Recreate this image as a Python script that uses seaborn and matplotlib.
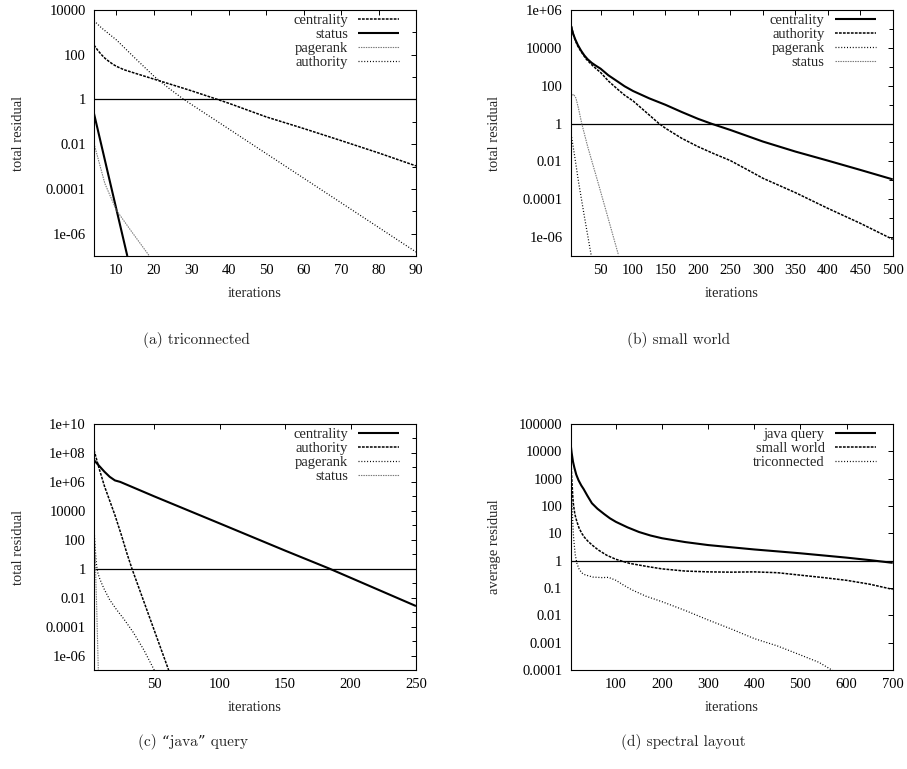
import numpy as np
import pandas as pd
import matplotlib
matplotlib.use("Agg")
import matplotlib.pyplot as plt
import seaborn as sns
from matplotlib.ticker import FixedLocator, FuncFormatter, NullLocator, NullFormatter, LogLocator

# ---------------- data ----------------
# (a) triconnected
a_centrality_x = [4, 5, 6, 7, 8, 9, 10, 12, 15, 20, 25, 30, 37, 40, 50, 60, 70, 80, 90]
a_centrality_y = [269, 158, 100, 67.6, 50.1, 38.0, 30.2, 21.4, 14.8, 8.13, 4.47, 2.45, 1.0,
                  0.676, 0.166, 0.0501, 0.01445, 0.00407, 0.00107]
a_status_x = [4, 8, 12.9]
a_status_y = [0.234, 3.2e-4, 1.0e-7]
a_pagerank_x = [4, 6.9, 10, 14, 18.8]
a_pagerank_y = [0.0107, 1.74e-4, 1.10e-5, 1.26e-6, 1.0e-7]
a_authority_x = [4, 5, 6, 8, 10, 12.5, 15, 17.5, 20, 24, 28, 40, 50, 60, 70, 80, 90]
a_authority_y = [3311, 2291, 1585, 851, 457, 178, 69.2, 27.5, 11.0, 3.16, 1.0, 0.0479, 0.0038,
                 3.02e-4, 2.4e-5, 1.9e-6, 1.51e-7]

# (b) small world
b_centrality_x = [4, 6, 8, 11, 15, 20, 25, 30, 36.6, 43, 50, 62, 75, 87, 100, 125, 150, 175,
                  200, 220, 250, 300, 350, 400, 450, 500]
b_centrality_y = [1.66e5, 8.9e4, 5.25e4, 2.82e4, 1.41e4, 7079, 3981, 2512, 1585, 1122, 794,
                  355, 178, 93.3, 52.5, 21.4, 9.77, 4.07, 1.78, 1.0, 0.457, 0.112, 0.0331,
                  0.011, 0.00355, 0.00112]
b_authority_x = [4, 6, 8, 10, 14, 20, 28, 36.6, 43, 50, 62, 75, 87, 100, 120, 140, 150, 175,
                 200, 225, 250, 275, 300, 350, 400, 450, 500]
b_authority_y = [2.24e5, 1.0e5, 5.25e4, 3.16e4, 1.41e4, 6310, 2512, 1259, 794, 501, 178, 70.8,
                 31.6, 15.8, 3.98, 1.0, 0.562, 0.166, 0.0603, 0.0251, 0.011, 0.0038, 0.00129,
                 2.24e-4, 3.31e-5, 5.37e-6, 7.59e-7]
b_pagerank_x = [4, 10, 16, 25, 35.5]
b_pagerank_y = [0.38, 0.02, 8.5e-4, 1.26e-5, 1.12e-7]
b_status_x = [4, 8.3, 12, 16, 21, 30, 46.8, 60, 77.6]
b_status_y = [25.1, 35.5, 22.4, 6.31, 1.0, 0.0631, 6.3e-4, 1.58e-5, 1.12e-7]

# (c) "java" query
c_centrality_x = [4, 8, 12, 16, 20, 24, 50, 100, 150, 184, 250]
c_centrality_y = [3.16e7, 1.26e7, 5.01e6, 2.24e6, 1.26e6, 1.0e6, 1.0e5, 1349, 17.8, 1.0, 0.00263]
c_authority_x = [4, 8, 12, 16, 20, 25, 29, 33, 47, 61]
c_authority_y = [1.58e8, 7.94e6, 5.01e5, 5.01e4, 5012, 200, 12.6, 1.0, 3.16e-4, 1.0e-7]
c_pagerank_x = [4, 4.5, 5, 5.5, 6, 7, 8, 10, 12, 16, 21, 27, 34, 42, 50]
c_pagerank_y = [794, 100, 20, 5.01, 1.58, 0.5, 0.251, 0.0891, 0.0355, 0.00708, 0.00158,
                3.16e-4, 3.98e-5, 2.5e-6, 1.0e-7]
c_status_x = [4, 5, 6, 7.3]
c_status_y = [1000, 3.16, 0.00316, 1.0e-7]

# (d) spectral layout
d_java_x = [2, 4, 7, 10, 14, 19, 25, 30, 38, 48, 60, 75, 87, 100, 125, 150, 175, 200, 250,
            300, 350, 400, 450, 500, 550, 600, 650, 700]
d_java_y = [17783, 8913, 4169, 2512, 1413, 871, 562, 417, 240, 126, 79.4, 50.1, 35.5, 26.3,
            16.6, 11.2, 8.32, 6.61, 4.79, 3.72, 3.09, 2.57, 2.19, 1.86, 1.55, 1.29, 1.05, 0.832]
d_small_x = [2, 3, 4, 5, 6.5, 8, 11, 15, 20, 26, 32, 40, 50, 62, 80, 100, 130, 170, 200, 250,
             300, 350, 400, 450, 500, 550, 600, 650, 700]
d_small_y = [10000, 3162, 1259, 631, 224, 112, 50.1, 28.2, 15.8, 10, 7.08, 5.01, 3.55, 2.45,
             1.58, 1.12, 0.794, 0.603, 0.501, 0.417, 0.389, 0.380, 0.389, 0.363, 0.295, 0.240,
             0.191, 0.138, 0.0891]
d_tri_x = [2, 3, 4, 5, 6.5, 8, 10, 12, 15.5, 20, 26, 33.5, 50, 70, 84, 100, 117, 135, 165, 200,
           250, 300, 350, 400, 450, 500, 540, 570]
d_tri_y = [6310, 1000, 251, 100, 25.1, 7.94, 3.39, 1.58, 0.794, 0.501, 0.355, 0.302, 0.251,
           0.24, 0.245, 0.191, 0.126, 0.0851, 0.0501, 0.0316, 0.0151, 0.00676, 0.00316,
           0.00141, 7.59e-4, 3.55e-4, 1.91e-4, 9.55e-5]

# axis ticks
a_yticks = [1e4, 1e2, 1, 1e-2, 1e-4, 1e-6]
a_yminor = [1e3, 1e1, 1e-1, 1e-3, 1e-5]
a_xticks = [10, 20, 30, 40, 50, 60, 70, 80, 90]
b_yticks = [1e6, 1e4, 1e2, 1, 1e-2, 1e-4, 1e-6]
b_yminor = [1e5, 1e3, 1e1, 1e-1, 1e-3, 1e-5]
b_xticks = [50, 100, 150, 200, 250, 300, 350, 400, 450, 500]
c_yticks = [1e10, 1e8, 1e6, 1e4, 1e2, 1, 1e-2, 1e-4, 1e-6]
c_yminor = [1e9, 1e7, 1e5, 1e3, 1e1, 1e-1, 1e-3, 1e-5]
c_xticks = [50, 100, 150, 200, 250]
d_yticks = [1e5, 1e4, 1e3, 1e2, 1e1, 1, 1e-1, 1e-2, 1e-3, 1e-4]
d_xticks = [100, 200, 300, 400, 500, 600, 700]

captions = ["(a) triconnected", "(b) small world", "(c) \u201cjava\u201d query", "(d) spectral layout"]

# ---------------- style ----------------
sns.set_style("white")
plt.rcParams['font.family'] = ['Liberation Serif', 'DejaVu Serif']
plt.rcParams['axes.linewidth'] = 0.8
plt.rcParams['axes.edgecolor'] = 'black'

STY = {
    'solid':  dict(color='black', lw=1.5, ls='-'),
    'dashed': dict(color='black', lw=1.1, ls=(0, (1.8, 0.8))),
    'dotted': dict(color='black', lw=0.9, ls=(0, (0.8, 1.5))),
    'gray':   dict(color='#7a7a7a', lw=0.8, ls=(0, (1.3, 0.9))),
}

FS = 10.5

panels = [
    dict(pos=(94, 10), xlim=(4, 90), ylim=(1e-7, 1e4), xticks=a_xticks, yticks=a_yticks,
         yminor=a_yminor, ylabel="total residual",
         series=[("centrality", a_centrality_x, a_centrality_y, 'dashed'),
                 ("status", a_status_x, a_status_y, 'solid'),
                 ("pagerank", a_pagerank_x, a_pagerank_y, 'gray'),
                 ("authority", a_authority_x, a_authority_y, 'dotted')]),
    dict(pos=(570.7, 10), xlim=(4, 500), ylim=(1e-7, 1e6), xticks=b_xticks, yticks=b_yticks,
         yminor=b_yminor, ylabel="total residual",
         series=[("centrality", b_centrality_x, b_centrality_y, 'solid'),
                 ("authority", b_authority_x, b_authority_y, 'dashed'),
                 ("pagerank", b_pagerank_x, b_pagerank_y, 'dotted'),
                 ("status", b_status_x, b_status_y, 'gray')]),
    dict(pos=(94, 424), xlim=(4, 250), ylim=(1e-7, 1e10), xticks=c_xticks, yticks=c_yticks,
         yminor=c_yminor, ylabel="total residual",
         series=[("centrality", c_centrality_x, c_centrality_y, 'solid'),
                 ("authority", c_authority_x, c_authority_y, 'dashed'),
                 ("pagerank", c_pagerank_x, c_pagerank_y, 'dotted'),
                 ("status", c_status_x, c_status_y, 'gray')]),
    dict(pos=(570.7, 424), xlim=(2, 700), ylim=(1e-4, 1e5), xticks=d_xticks, yticks=d_yticks,
         yminor=None, ylabel="average residual",
         series=[("java query", d_java_x, d_java_y, 'solid'),
                 ("small world", d_small_x, d_small_y, 'dashed'),
                 ("triconnected", d_tri_x, d_tri_y, 'dotted')]),
]

W, H = 907, 769
fig = plt.figure(figsize=(W / 100, H / 100), dpi=100)
AW, AH = 322, 246

for p in panels:
    x0, y0 = p['pos']
    ax = fig.add_axes([x0 / W, 1 - (y0 + AH) / H, AW / W, AH / H])
    ax.set_yscale('log')
    ax.axhline(1, color='black', lw=0.9, zorder=1)
    handles = []
    for label, xs, ys, kind in p['series']:
        st = STY[kind]
        df = pd.DataFrame({'iterations': xs, 'residual': ys})
        before = list(ax.lines)
        sns.lineplot(data=df, x='iterations', y='residual', ax=ax, color=st['color'],
                     lw=st['lw'], estimator=None, sort=False, label=label, legend=False)
        new = [l for l in ax.lines if l not in before]
        for l in new:
            l.set_linestyle(st['ls'])
            l.set_solid_capstyle('butt')
            l.set_dash_capstyle('butt')
            l.set_solid_joinstyle('round')
        handles.append(new[0])
    ax.set_xlim(*p['xlim'])
    ax.set_ylim(*p['ylim'])
    ax.xaxis.set_major_locator(FixedLocator(p['xticks']))
    ax.xaxis.set_minor_locator(NullLocator())
    ax.yaxis.set_major_locator(FixedLocator(p['yticks']))
    if p['yminor'] is not None:
        ax.yaxis.set_minor_locator(FixedLocator(p['yminor']))
        ax.tick_params(axis='y', which='minor', length=3.0)
    else:
        ax.yaxis.set_minor_locator(LogLocator(base=10, subs=np.arange(2, 10)))
        ax.tick_params(axis='y', which='minor', length=1.6)
    ax.yaxis.set_minor_formatter(NullFormatter())
    ax.yaxis.set_major_formatter(FuncFormatter(lambda v, pos: '%g' % v))
    ax.xaxis.set_major_formatter(FuncFormatter(lambda v, pos: '%g' % v))
    ax.tick_params(axis='both', which='both', direction='in', top=True, right=True,
                   width=0.7, colors='black', labelsize=FS, pad=6)
    ax.tick_params(axis='both', which='major', length=3.5)
    for s in ax.spines.values():
        s.set_visible(True)
        s.set_color('black')
        s.set_linewidth(0.8)
    ax.set_xlabel("iterations", fontsize=FS)
    ax.set_ylabel(p['ylabel'], fontsize=FS)
    ax.xaxis.set_label_coords(0.5, -0.125)
    ax.yaxis.set_label_coords(-0.215, 0.5)
    ax.legend(handles=handles, labels=[s[0] for s in p['series']], loc='upper right',
              bbox_to_anchor=(0.947, 0.985), frameon=False, markerfirst=False,
              handlelength=2.8, handletextpad=0.7, labelspacing=0.05, borderpad=0,
              borderaxespad=0, fontsize=FS)

cap_pos = [(196, 340), (679, 340), (193, 742), (683, 742)]
for (cx, cy), txt in zip(cap_pos, captions):
    fig.text(cx / W, 1 - cy / H, txt, ha='center', va='center', fontsize=11,
             family=['cmr10', 'DejaVu Serif'])

fig.savefig("out.png", dpi=100, facecolor='white')
